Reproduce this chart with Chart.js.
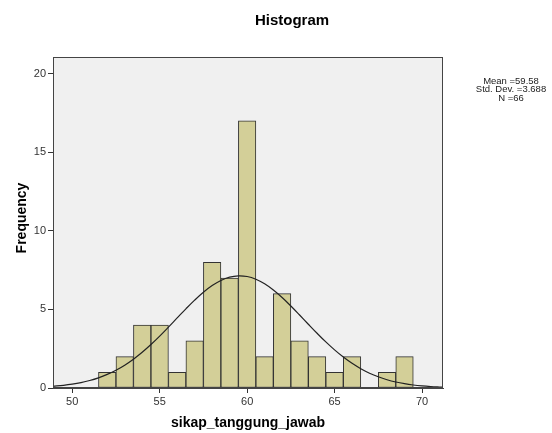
<!DOCTYPE html>
<html><head><meta charset="utf-8">
<script src="https://cdn.jsdelivr.net/npm/chart.js@4"></script>
<style>html,body{margin:0;padding:0;background:#fff}#wrap{width:552px;height:433px}</style>
</head><body><div id="wrap"><canvas id="c" width="552" height="433"></canvas></div>
<script>
const binCenters = [52,53,54,55,56,57,58,59,60,61,62,63,64,65,66,67,68,69];
const frequencies = [1,2,4,4,1,3,8,7,17,2,6,3,2,1,2,0,1,2];
const curveX = [48.9,49.5,50,50.5,51,51.5,52,52.5,53,53.5,54,54.5,55,55.5,56,56.5,57,57.5,58,58.5,59,59.5,60,60.5,61,61.5,62,62.5,63,63.5,64,64.5,65,65.5,66,66.5,67,67.5,68,68.5,69,69.5,70,70.5,71,71.2];
const curveY = [0.108,0.171,0.245,0.345,0.477,0.648,0.864,1.131,1.454,1.834,2.273,2.765,3.302,3.872,4.457,5.038,5.590,6.090,6.514,6.840,7.052,7.138,7.094,6.921,6.630,6.235,5.757,5.219,4.645,4.058,3.482,2.932,2.425,1.968,1.569,1.228,0.943,0.712,0.527,0.383,0.274,0.192,0.132,0.089,0.059,0.050];
const xTicks = [50,55,60,65,70];
const yTicks = [0,5,10,15,20];
const statsLines = ['Mean =59.58','Std. Dev. =3.688','N =66'];
const titleText = 'Histogram';
const xLabel = 'sikap_tanggung_jawab';
const yLabel = 'Frequency';

const deco = {
  id:'deco',
  beforeDraw(chart){
    const {ctx, chartArea:a} = chart;
    ctx.save();
    ctx.fillStyle = '#f0f0f0';
    ctx.fillRect(a.left, a.top, a.right-a.left, a.bottom-a.top);
    ctx.restore();
  },
  afterDraw(chart){
    const {ctx, chartArea:a} = chart;
    ctx.save();
    ctx.strokeStyle = '#444';
    ctx.lineWidth = 1;
    ctx.strokeRect(Math.round(a.left)+0.5, Math.round(a.top)+0.5, Math.round(a.right-a.left)-1, Math.round(a.bottom-a.top)-1);
    ctx.fillStyle = '#000';
    ctx.textAlign = 'center';
    ctx.textBaseline = 'middle';
    ctx.font = 'bold 15px Arial, "Liberation Sans", sans-serif';
    ctx.fillText(titleText, 292, 21);
    ctx.font = 'bold 14px Arial, "Liberation Sans", sans-serif';
    ctx.fillText(xLabel, 248, 423);
    ctx.save();
    ctx.translate(22, 218);
    ctx.rotate(-Math.PI/2);
    ctx.font = 'bold 14px Arial, "Liberation Sans", sans-serif';
    ctx.fillText(yLabel, 0, 0);
    ctx.restore();
    ctx.font = '9.5px Arial, "Liberation Sans", sans-serif';
    ctx.fillStyle = '#222';
    statsLines.forEach((t,i)=>ctx.fillText(t, 511, 81 + i*8.6));
    ctx.restore();
  }
};

new Chart(document.getElementById('c'), {
  data: {
    datasets: [
      {type:'line', data: curveX.map((x,i)=>({x, y: curveY[i]})), borderColor:'#222', borderWidth:1.2, pointRadius:0, tension:0.4, fill:false, order:0},
      {type:'bar', data: binCenters.map((x,i)=>({x, y: frequencies[i]})), backgroundColor:'#d3cf98', borderColor:'#333', borderWidth:1, barPercentage:1, categoryPercentage:1, borderSkipped:false, order:1}
    ]
  },
  options: {
    responsive:false, animation:false, devicePixelRatio:1,
    layout:{padding:{top:57, right:109, left:0, bottom:0}},
    plugins:{legend:{display:false}, tooltip:{enabled:false}},
    scales:{
      x:{type:'linear', min:48.9, max:71.2, offset:false,
        afterBuildTicks(s){ s.ticks = xTicks.map(v=>({value:v})); },
        afterFit(s){ s.height = 45; },
        grid:{offset:false, drawOnChartArea:false, drawTicks:true, tickLength:5, color:'#333'},
        border:{display:true, color:'#444'},
        ticks:{color:'#333', font:{size:11, family:'Arial, "Liberation Sans", sans-serif'}, padding:2, maxRotation:0}
      },
      y:{type:'linear', min:0, max:21.06,
        afterBuildTicks(s){ s.ticks = yTicks.map(v=>({value:v})); },
        afterFit(s){ s.width = 53; },
        grid:{drawOnChartArea:false, drawTicks:true, tickLength:5, color:'#333'},
        border:{display:true, color:'#444'},
        ticks:{color:'#333', font:{size:11, family:'Arial, "Liberation Sans", sans-serif'}, padding:2}
      }
    }
  },
  plugins:[deco]
});
</script></body></html>
